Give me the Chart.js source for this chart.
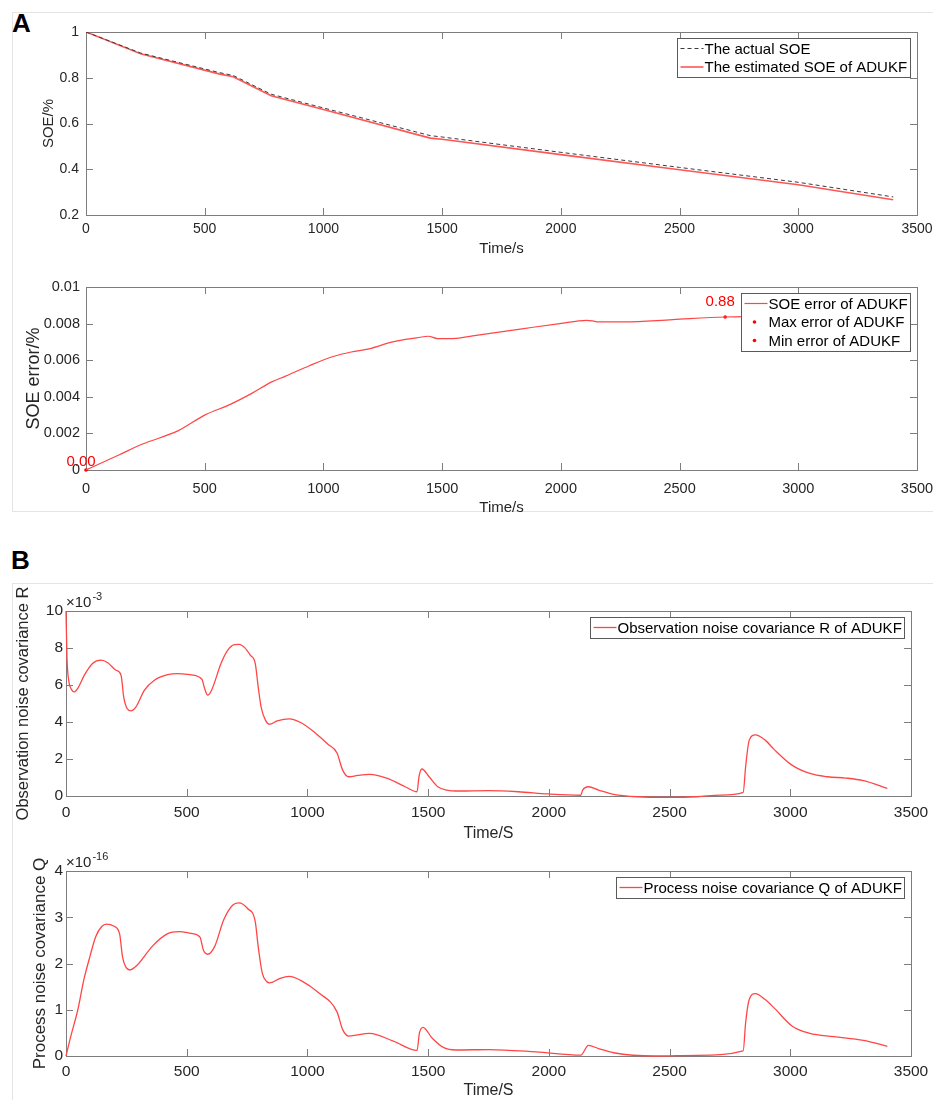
<!DOCTYPE html>
<html>
<head>
<meta charset="utf-8">
<title>SOE estimation with ADUKF</title>
<script src="https://cdn.jsdelivr.net/npm/chart.js@4.4.1/dist/chart.umd.min.js"></script>
<style>
  body { margin: 0; background: #fff; }
  #page { position: relative; width: 933px; height: 1100px; overflow: hidden; font-family: "Liberation Sans", Arial, sans-serif; }
  .frame { position: absolute; border: 1px solid #e4e4e4; border-right: none; }
  .tag { position: absolute; font-size: 26px; line-height: 26px; font-weight: bold; color: #000; }
  canvas { position: absolute; left: 0; }
</style>
</head>
<body>
<div id="page">
  <div class="frame" style="left:12px; top:12px; width:921px; height:498px;"></div>
  <div class="frame" style="left:12px; top:583px; width:921px; height:530px; border-bottom:none;"></div>
  <div class="tag" style="left:12px; top:10px;">A</div>
  <div class="tag" style="left:11px; top:547px;">B</div>
  <canvas id="soeChart" width="933" height="245" style="top:14px"></canvas>
  <canvas id="errChart" width="933" height="251" style="top:267px"></canvas>
  <canvas id="rChart" width="933" height="257" style="top:587px"></canvas>
  <canvas id="qChart" width="933" height="252" style="top:848px"></canvas>
</div>
<script>
// shared time axis (s)
const timeTicks = [0, 500, 1000, 1500, 2000, 2500, 3000, 3500];

// actual vs. estimated SOE
const soeTime = [0, 230, 560, 620, 780, 1000, 1450, 1500, 2000, 2500, 3000, 3400];
const soeActual = [1, 0.908, 0.823, 0.81, 0.728, 0.668, 0.547, 0.541, 0.474, 0.408, 0.343, 0.279];
const soeEstimated = [1, 0.905, 0.817, 0.804, 0.721, 0.661, 0.536, 0.531, 0.464, 0.398, 0.332, 0.267];
const soeTicks = [0.2, 0.4, 0.6, 0.8, 1];

// SOE error of ADUKF
const errTime = [0, 138, 238, 389, 500, 610, 700, 780, 840, 941, 1041, 1117, 1192, 1292, 1393, 1443, 1480, 1543, 1643, 1844, 1995, 2108, 2133, 2158, 2271, 2471, 2692, 2800, 3000, 3200, 3400];
const errValues = [0, 0.00082, 0.00142, 0.00215, 0.003, 0.0036, 0.0042, 0.0048, 0.00513, 0.0057, 0.0062, 0.00645, 0.00662, 0.007, 0.00722, 0.00731, 0.00718, 0.00718, 0.00736, 0.00773, 0.008, 0.00818, 0.00815, 0.00809, 0.00809, 0.00822, 0.00836, 0.00838, 0.0084, 0.0084, 0.0084];
const errTicks = [0, 0.002, 0.004, 0.006, 0.008, 0.01];
const errMax = { time: [2692], value: [0.00836], text: ['0.88'] };
const errMin = { time: [0], value: [0], text: ['0.00'] };

// observation noise covariance R (x 10^-3)
const rTime = [0, 4, 11, 21, 35, 48, 76, 110, 145, 173, 207, 228, 239, 253, 269, 290, 325, 366, 421, 463, 511, 563, 573, 587, 603, 642, 670, 697, 718, 740, 764, 784, 796, 808, 826, 843, 875, 924, 974, 1035, 1085, 1122, 1146, 1171, 1208, 1257, 1331, 1405, 1454, 1462, 1474, 1504, 1540, 1578, 1627, 1750, 1873, 1997, 2132, 2140, 2164, 2206, 2268, 2366, 2490, 2613, 2711, 2805, 2815, 2830, 2855, 2896, 2933, 3007, 3081, 3155, 3229, 3303, 3402];
const rValues = [10, 7.5, 6.26, 5.8, 5.63, 5.8, 6.53, 7.16, 7.34, 7.2, 6.8, 6.53, 5.36, 4.73, 4.6, 4.82, 5.72, 6.26, 6.56, 6.62, 6.56, 6.31, 5.86, 5.45, 5.72, 7.16, 7.88, 8.18, 8.2, 8.02, 7.6, 7.16, 5.9, 4.82, 4.1, 3.88, 4.06, 4.17, 3.96, 3.38, 2.8, 2.34, 1.4, 1.04, 1.11, 1.17, 0.95, 0.5, 0.23, 1.04, 1.46, 1.04, 0.5, 0.32, 0.27, 0.29, 0.23, 0.11, 0.04, 0.32, 0.5, 0.32, 0.09, -0.04, -0.07, -0.04, 0.05, 0.2, 1.58, 3.02, 3.3, 3.02, 2.52, 1.67, 1.22, 1.04, 0.97, 0.83, 0.41];
const rTicks = [0, 2, 4, 6, 8, 10];

// process noise covariance Q (x 10^-16)
const qTime = [0, 20, 49, 74, 99, 123, 148, 168, 197, 222, 234, 246, 264, 296, 357, 419, 468, 518, 555, 569, 587, 616, 653, 690, 715, 752, 784, 796, 813, 831, 843, 887, 924, 974, 1048, 1122, 1146, 1171, 1257, 1356, 1454, 1464, 1479, 1516, 1565, 1615, 1750, 1947, 2132, 2164, 2206, 2268, 2440, 2613, 2805, 2815, 2830, 2855, 2896, 2933, 3007, 3081, 3180, 3303, 3402];
const qValues = [0, 0.43, 1.0, 1.65, 2.15, 2.58, 2.8, 2.85, 2.81, 2.64, 2.15, 1.94, 1.86, 1.97, 2.37, 2.64, 2.69, 2.65, 2.57, 2.29, 2.2, 2.37, 2.94, 3.26, 3.31, 3.19, 2.9, 2.37, 1.79, 1.61, 1.58, 1.68, 1.72, 1.63, 1.36, 0.96, 0.57, 0.43, 0.49, 0.32, 0.12, 0.5, 0.62, 0.39, 0.18, 0.13, 0.14, 0.09, 0.02, 0.23, 0.16, 0.07, 0.0, 0.015, 0.11, 0.72, 1.22, 1.35, 1.22, 1.04, 0.65, 0.49, 0.42, 0.34, 0.21];
const qTicks = [0, 1, 2, 3, 4];

const FONT = '"Liberation Sans", Arial, sans-serif';
const TEXT = '#262626';
const AXIS = '#7d7d7d';
const RED = '#ff4646';

Chart.defaults.font.family = FONT;
Chart.defaults.color = TEXT;

function points(xs, ys) {
  return xs.map((x, i) => ({ x: x, y: ys[i] }));
}

// matlab style box with inward ticks on all four sides, plus the axis exponent
const matlabAxes = {
  id: 'matlabAxes',
  beforeDatasetsDraw(chart, args, opts) {
    const { ctx, chartArea: a, scales: { x, y } } = chart;
    const L = 7;
    ctx.save();
    ctx.strokeStyle = AXIS;
    ctx.lineWidth = 1;
    ctx.beginPath();
    x.ticks.forEach(t => {
      const px = Math.round(x.getPixelForValue(t.value)) + 0.5;
      ctx.moveTo(px, a.bottom); ctx.lineTo(px, a.bottom - L);
      ctx.moveTo(px, a.top); ctx.lineTo(px, a.top + L);
    });
    y.ticks.forEach(t => {
      const py = Math.round(y.getPixelForValue(t.value)) + 0.5;
      ctx.moveTo(a.left, py); ctx.lineTo(a.left + L, py);
      ctx.moveTo(a.right, py); ctx.lineTo(a.right - L, py);
    });
    ctx.stroke();
    ctx.strokeRect(Math.round(a.left) + 0.5, Math.round(a.top) + 0.5, Math.round(a.width), Math.round(a.height));
    if (opts.exponent) {
      ctx.fillStyle = TEXT;
      ctx.textBaseline = 'alphabetic';
      ctx.font = '15px ' + FONT;
      const bx = a.left, by = a.top - 4;
      ctx.fillText('\u00d710', bx, by);
      const w = ctx.measureText('\u00d710').width;
      ctx.font = '11px ' + FONT;
      ctx.fillText(opts.exponent, bx + w + 1, by - 7);
    }
    ctx.restore();
  }
};

// red value labels next to the max / min markers
const markText = {
  id: 'markText',
  afterDatasetsDraw(chart) {
    const { ctx } = chart;
    chart.data.datasets.forEach((ds, i) => {
      if (!ds.markText) return;
      const meta = chart.getDatasetMeta(i);
      ctx.save();
      ctx.fillStyle = '#ff0000';
      ctx.font = '15px ' + FONT;
      ctx.textAlign = 'center';
      ctx.textBaseline = 'middle';
      meta.data.forEach((pt, j) => {
        ctx.fillText(ds.markText[j], pt.x + ds.markOffset.x, pt.y + ds.markOffset.y);
      });
      ctx.restore();
    });
  }
};

// boxed legend in the upper right corner of the axes
const boxLegend = {
  id: 'boxLegend',
  afterDraw(chart, args, opts) {
    const { ctx, chartArea: a } = chart;
    const items = chart.data.datasets;
    const rowH = 18.5;
    ctx.save();
    ctx.font = opts.size + 'px ' + FONT;
    const textW = Math.max(...items.map(d => ctx.measureText(d.label).width));
    const w = 27 + textW + 3;
    const h = items.length * rowH + 2;
    const x0 = Math.round(a.right - 7 - w) + 0.5;
    const y0 = Math.round(a.top + 6) + 0.5;
    ctx.fillStyle = '#fff';
    ctx.fillRect(x0, y0, w, h);
    ctx.strokeStyle = '#5a5a5a';
    ctx.lineWidth = 1;
    ctx.strokeRect(x0, y0, Math.round(w), Math.round(h));
    items.forEach((d, i) => {
      const cy = y0 + 10 + i * rowH;
      if (d.showLine === false) {
        ctx.fillStyle = d.pointBackgroundColor;
        ctx.beginPath();
        ctx.arc(x0 + 13, cy, 1.8, 0, Math.PI * 2);
        ctx.fill();
      } else {
        ctx.strokeStyle = d.borderColor;
        ctx.lineWidth = d.borderWidth;
        ctx.setLineDash(d.borderDash || []);
        ctx.beginPath();
        ctx.moveTo(x0 + 3, cy);
        ctx.lineTo(x0 + 26, cy);
        ctx.stroke();
        ctx.setLineDash([]);
      }
      ctx.fillStyle = '#000';
      ctx.textBaseline = 'middle';
      ctx.fillText(d.label, x0 + 27, cy + 1);
    });
    ctx.restore();
  }
};

function timeAxis(o) {
  return {
    type: 'linear', min: 0, max: 3500,
    afterBuildTicks: s => { s.ticks = timeTicks.map(v => ({ value: v })); },
    afterFit: s => { s.height = o.height; s.paddingLeft = 0; s.paddingRight = 0; },
    grid: { display: false, drawTicks: false },
    border: { display: false },
    ticks: { font: { size: o.tickSize }, color: TEXT, padding: o.tickPad, maxRotation: 0, autoSkip: false, callback: v => String(v) },
    title: { display: true, text: o.title, font: { size: o.titleSize }, color: TEXT, padding: { top: 0, bottom: o.titlePad } }
  };
}

function valueAxis(o) {
  return {
    type: 'linear', min: o.ticks[0], max: o.ticks[o.ticks.length - 1],
    afterBuildTicks: s => { s.ticks = o.ticks.map(v => ({ value: v })); },
    afterFit: s => { s.width = o.width; s.paddingTop = 0; s.paddingBottom = 0; },
    grid: { display: false, drawTicks: false },
    border: { display: false },
    ticks: { font: { size: o.tickSize }, color: TEXT, padding: o.tickPad, autoSkip: false, callback: v => String(v) },
    title: { display: true, text: o.title, font: { size: o.titleSize }, color: TEXT, padding: { top: o.titlePad, bottom: 0 } }
  };
}

function baseOptions(o) {
  return {
    responsive: false,
    animation: false,
    devicePixelRatio: 1,
    layout: { padding: { top: o.padTop, right: o.padRight, bottom: 0, left: 0 } },
    plugins: {
      legend: { display: false },
      tooltip: { enabled: false },
      matlabAxes: { exponent: o.exponent || null },
      boxLegend: { size: 15 }
    },
    scales: { x: o.x, y: o.y }
  };
}

new Chart(document.getElementById('soeChart'), {
  type: 'line',
  data: {
    datasets: [{
      label: 'The actual SOE',
      data: points(soeTime, soeActual),
      borderColor: '#3a3a3a', borderWidth: 1, borderDash: [4, 3],
      pointRadius: 0, tension: 0
    }, {
      label: 'The estimated SOE of ADUKF',
      data: points(soeTime, soeEstimated),
      borderColor: '#ff5555', borderWidth: 1.6,
      pointRadius: 0, tension: 0
    }]
  },
  options: baseOptions({
    padTop: 18, padRight: 16,
    x: timeAxis({ height: 44, tickSize: 14, tickPad: 6, title: 'Time/s', titleSize: 15, titlePad: 1 }),
    y: valueAxis({ ticks: soeTicks, width: 86, tickSize: 14, tickPad: 7, title: 'SOE/%', titleSize: 15, titlePad: 40 })
  }),
  plugins: [matlabAxes, markText, boxLegend]
});

new Chart(document.getElementById('errChart'), {
  type: 'line',
  data: {
    datasets: [{
      label: 'SOE error of ADUKF',
      data: points(errTime, errValues),
      borderColor: RED, borderWidth: 1.2,
      pointRadius: 0, cubicInterpolationMode: 'monotone'
    }, {
      label: 'Max error of ADUKF',
      data: points(errMax.time, errMax.value),
      showLine: false, pointRadius: 1.8, pointBorderWidth: 0,
      pointBackgroundColor: '#ff0000', borderColor: '#ff0000',
      markText: errMax.text, markOffset: { x: -5, y: -15 }
    }, {
      label: 'Min error of ADUKF',
      data: points(errMin.time, errMin.value),
      showLine: false, pointRadius: 1.8, pointBorderWidth: 0,
      pointBackgroundColor: '#ff0000', borderColor: '#ff0000',
      markText: errMin.text, markOffset: { x: -5, y: -8 },
      clip: false
    }]
  },
  options: baseOptions({
    padTop: 20, padRight: 16,
    x: timeAxis({ height: 48, tickSize: 14.5, tickPad: 10, title: 'Time/s', titleSize: 15, titlePad: 1 }),
    y: valueAxis({ ticks: errTicks, width: 86, tickSize: 14.5, tickPad: 6, title: 'SOE error/%', titleSize: 18, titlePad: 23 })
  }),
  plugins: [matlabAxes, markText, boxLegend]
});

new Chart(document.getElementById('rChart'), {
  type: 'line',
  data: {
    datasets: [{
      label: 'Observation noise covariance R of ADUKF',
      data: points(rTime, rValues),
      borderColor: RED, borderWidth: 1.3,
      pointRadius: 0, cubicInterpolationMode: 'monotone',
      clip: 3
    }]
  },
  options: baseOptions({
    padTop: 24, padRight: 22, exponent: '-3',
    x: timeAxis({ height: 48, tickSize: 15.5, tickPad: 7, title: 'Time/S', titleSize: 16, titlePad: 1 }),
    y: valueAxis({ ticks: rTicks, width: 66, tickSize: 15.5, tickPad: 3, title: 'Observation noise covariance R', titleSize: 16.5, titlePad: 14 })
  }),
  plugins: [matlabAxes, markText, boxLegend]
});

new Chart(document.getElementById('qChart'), {
  type: 'line',
  data: {
    datasets: [{
      label: 'Process noise covariance Q of ADUKF',
      data: points(qTime, qValues),
      borderColor: RED, borderWidth: 1.3,
      pointRadius: 0, cubicInterpolationMode: 'monotone',
      clip: 3
    }]
  },
  options: baseOptions({
    padTop: 23, padRight: 22, exponent: '-16',
    x: timeAxis({ height: 44, tickSize: 15.5, tickPad: 6, title: 'Time/S', titleSize: 16, titlePad: 0 }),
    y: valueAxis({ ticks: qTicks, width: 66, tickSize: 15.5, tickPad: 3, title: 'Process noise covariance Q', titleSize: 17, titlePad: 30 })
  }),
  plugins: [matlabAxes, markText, boxLegend]
});
</script>
</body>
</html>
